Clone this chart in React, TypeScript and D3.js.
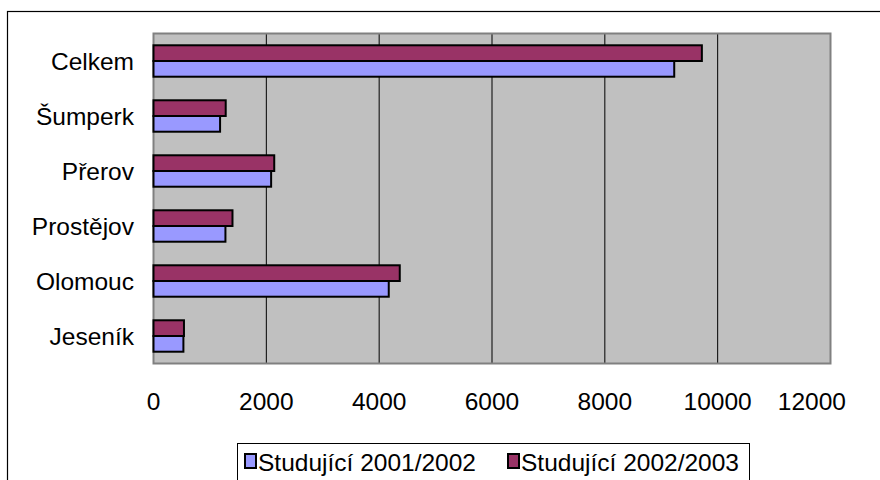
import React from "react";
import * as d3 from "d3";

const categories = ["Celkem", "Šumperk", "Přerov", "Prostějov", "Olomouc", "Jeseník"];
const seriesNames = ["Studující 2001/2002", "Studující 2002/2003"];
const values2001 = [9230, 1180, 2085, 1275, 4170, 530];
const values2002 = [9720, 1280, 2140, 1400, 4365, 540];
const xTicks = [0, 2000, 4000, 6000, 8000, 10000, 12000];
const seriesColors = ["#9999FF", "#993366"];

const W = 880;
const H = 480;
const plot = { left: 153.5, top: 33.5, right: 830.5, bottom: 363.5 };
const FONT = "'Liberation Sans', Arial, sans-serif";
const FS = 24.5;

export default function App() {
  const x = d3.scaleLinear().domain([0, 12000]).range([plot.left, plot.right]);
  const p = 1.5 / 3.5;
  const y = d3
    .scaleBand<string>()
    .domain(categories)
    .range([plot.top, plot.bottom])
    .paddingInner(p)
    .paddingOuter(p / 2);
  // purple (2002/2003) on top, blue (2001/2002) below
  const inner = d3.scaleBand<number>().domain([1, 0]).range([0, y.bandwidth()]);
  const series = [values2001, values2002];

  const legendX = 237;
  const legendY = 443;
  const legendItems = [
    { x: 245, name: seriesNames[0], color: seriesColors[0] },
    { x: 508, name: seriesNames[1], color: seriesColors[1] },
  ];

  return (
    <div style={{ position: "fixed", left: 0, top: 0 }}>
      <svg width={W} height={H} style={{ display: "block", background: "#fff" }}>
        <rect x={7.5} y={11.5} width={1000} height={600} fill="#fff" stroke="#000" strokeWidth={1.2} />
        <rect
          x={plot.left}
          y={plot.top}
          width={plot.right - plot.left}
          height={plot.bottom - plot.top}
          fill="#C0C0C0"
        />
        {xTicks.slice(1, -1).map((t) => (
          <line key={t} x1={x(t)} x2={x(t)} y1={plot.top} y2={plot.bottom} stroke="#000" strokeWidth={1} />
        ))}
        <rect
          x={plot.left}
          y={plot.top}
          width={plot.right - plot.left}
          height={plot.bottom - plot.top}
          fill="none"
          stroke="#808080"
          strokeWidth={2}
        />
        {categories.map((c, i) =>
          series.map((vals, s) => (
            <rect
              key={c + s}
              x={x(0)}
              y={(y(c) as number) + (inner(s) as number)}
              width={x(vals[i]) - x(0)}
              height={inner.bandwidth()}
              fill={seriesColors[s]}
              stroke="#000"
              strokeWidth={2}
            />
          ))
        )}
        {categories.map((c) => (
          <text
            key={c}
            x={134}
            y={(y(c) as number) + y.bandwidth() / 2}
            textAnchor="end"
            dominantBaseline="central"
            fontFamily={FONT}
            fontSize={FS}
            fill="#000"
          >
            {c}
          </text>
        ))}
        {xTicks.map((t, i) => {
          const last = i === xTicks.length - 1;
          return (
            <text
              key={t}
              x={last ? 846 : x(t)}
              y={401}
              textAnchor={last ? "end" : "middle"}
              dominantBaseline="central"
              fontFamily={FONT}
              fontSize={FS}
              fill="#000"
            >
              {t}
            </text>
          );
        })}
        <rect x={legendX + 0.5} y={legendY + 0.5} width={512} height={60} fill="#fff" stroke="#000" strokeWidth={1} />
        {legendItems.map((it) => (
          <g key={it.name}>
            <rect x={it.x} y={legendY + 11} width={11} height={14} fill={it.color} stroke="#000" strokeWidth={2} />
            <text x={it.x + 13} y={legendY + 19} dominantBaseline="central" fontFamily={FONT} fontSize={FS} fill="#000">
              {it.name}
            </text>
          </g>
        ))}
      </svg>
    </div>
  );
}
